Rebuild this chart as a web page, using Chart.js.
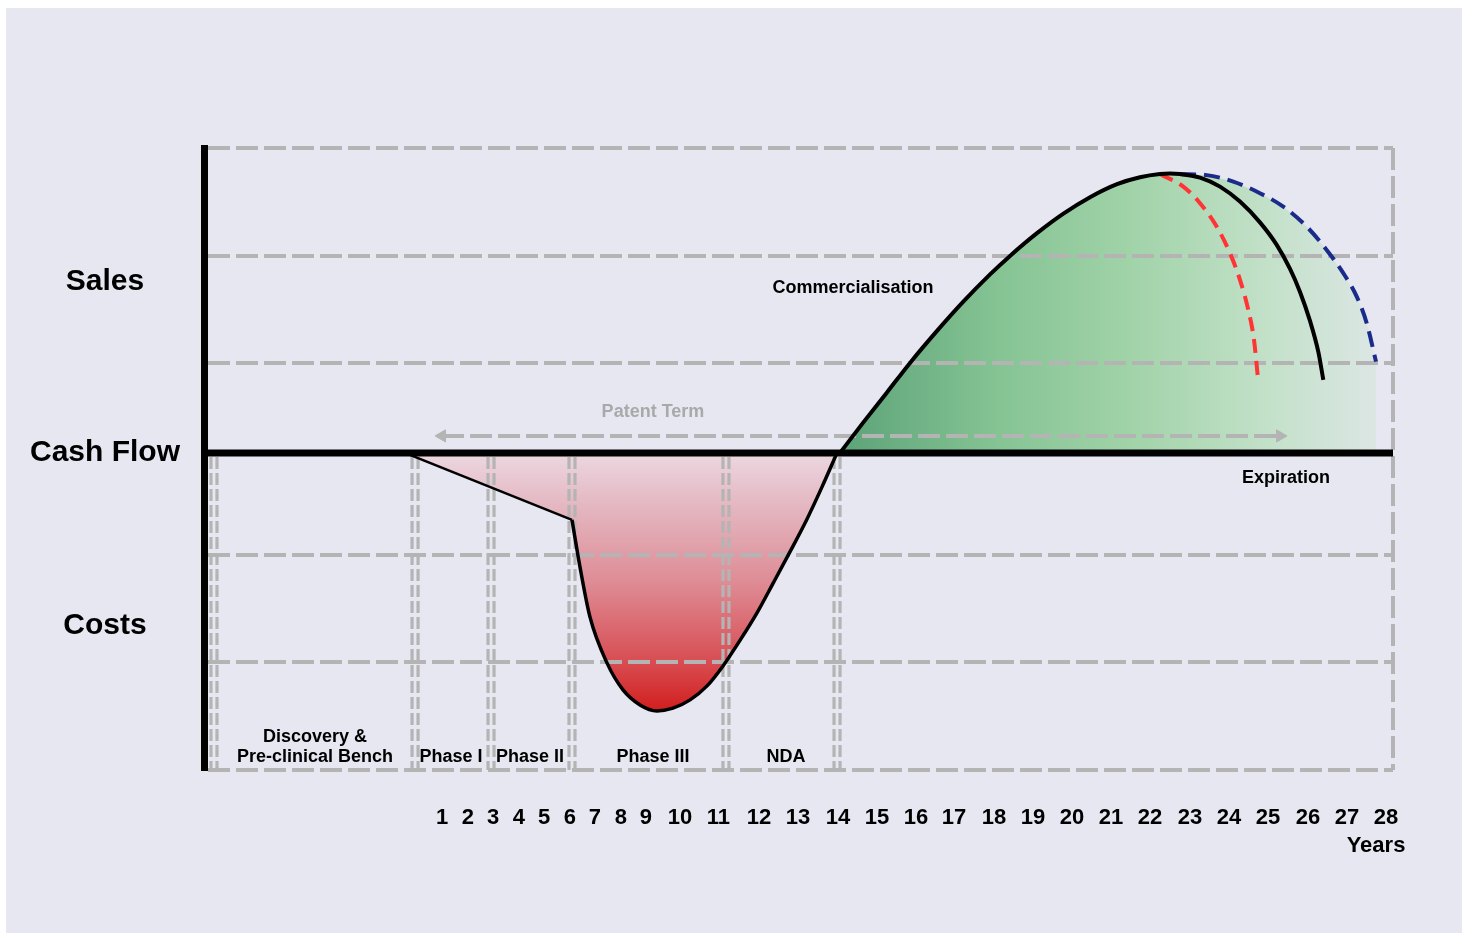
<!DOCTYPE html>
<html>
<head>
<meta charset="utf-8">
<script src="https://cdn.jsdelivr.net/npm/chart.js@4.4.1/dist/chart.umd.min.js"></script>
<style>
html,body{margin:0;padding:0;background:#ffffff;}
#wrap{width:1462px;height:933px;position:relative;}
</style>
</head>
<body>
<div id="wrap"><canvas id="c"></canvas></div>
<script>
// ---------------- data (timeline units 0..100, value units: cash flow = 0) ----------------
const yearLabels = ['1','2','3','4','5','6','7','8','9','10','11','12','13','14','15','16','17','18','19','20','21','22','23','24','25','26','27','28'];
const yearTickPos = [20.02,22.19,24.31,26.49,28.60,30.78,32.88,35.07,37.17,40.03,43.27,46.68,49.96,53.32,56.60,59.88,63.08,66.44,69.72,73.00,76.28,79.56,82.93,86.21,89.49,92.85,96.13,99.41];

const sideLabels = ['Sales','Cash Flow','Costs'];
const sideLabelPos = [56.1, 0, -56.7];

const gridLevels = [100, 64.6, 29.5, -33.4, -68.5, -104];
const phaseBounds = [0.84, 17.75, 24.14, 30.95, 43.90, 53.24];
const phaseNames = ['Discovery &\nPre-clinical Bench','Phase I','Phase II','Phase III','NDA'];
const phaseLabelX = [9.34, 20.77, 27.42, 37.76, 48.95];
const phaseLabelY = -99.7;

// early development cost ramp (Phase I - II)
const rampX = [16.90, 30.95];
const rampY = [0, -21.97];

// Phase III / NDA costs
const costX = [30.95,31.62,32.46,33.89,35.24,36.67,38.10,39.44,40.88,42.31,43.65,45.08,46.51,47.86,49.28,50.72,51.98,53.24];
const costY = [-21.97,-37.39,-53.79,-68.87,-77.73,-82.65,-84.62,-83.73,-81.01,-76.42,-69.86,-61.50,-52.48,-42.80,-32.47,-21.65,-11.15,0];

// sales (base case)
const salesX = [53.49,55.42,57.44,59.38,61.65,63.84,66.11,67.79,70.06,72.25,74.52,76.79,78.72,80.40,81.24,82.09,83.77,85.45,87.13,88.81,90.22,91.34,92.18,93.02,93.72,94.14];
const salesY = [0,9.84,19.84,29.52,40.01,49.52,58.54,64.61,72.06,78.39,83.86,88.13,90.39,91.45,91.6,91.45,90.30,87.34,82.42,75.60,68.22,60.35,52.80,43.29,33.13,23.94];

// early decline (red dashed)
const earlyX = [80.40,82.36,83.77,85.17,86.29,87.13,87.83,88.31,88.67];
const earlyY = [91.45,87.34,81.90,74.22,65.50,56.74,46.90,37.06,23.38];

// extended life (blue dashed)
const extX = [82.09,84.33,86.57,88.81,90.77,92.74,94.42,95.82,96.95,97.79,98.57];
const extY = [91.45,91.10,88.98,85.18,80.78,74.22,66.58,58.94,51.26,42.54,29.94];

// patent term
const patentStart = 20.02, patentEnd = 90.50, patentLevel = 5.57;

// free text annotations
const noteTexts = ['Commercialisation','Patent Term','Expiration','Years'];
const noteX = [54.58, 37.76, 91.0, 98.57];
const noteY = [54.1, 13.45, -8.2, -128.9];

// ---------------- helpers ----------------
const FONT = "'Liberation Sans', Arial, Helvetica, sans-serif";
const pts = (xs, ys) => xs.map((x, i) => ({x: x, y: ys[i]}));
const peakIdx = salesX.indexOf(extX[0]);
const salesEnvelope = pts(salesX.slice(0, peakIdx + 1), salesY.slice(0, peakIdx + 1)).concat(pts(extX.slice(1), extY.slice(1)));
const costEnvelope = pts(rampX, rampY).concat(pts(costX.slice(1), costY.slice(1)));
const GRID = '#b4b4b4';

function salesGradient(ctx) {
  const chart = ctx.chart;
  if (!chart.chartArea) return 'rgba(0,0,0,0)';
  const xs = chart.scales.x;
  const x0 = xs.getPixelForValue(salesX[0]);
  const x1 = xs.getPixelForValue(extX[extX.length - 1]);
  const g = chart.ctx.createLinearGradient(x0, 0, x1, 0);
  g.addColorStop(0, '#5ca378');
  g.addColorStop(0.3, '#86c494');
  g.addColorStop(0.55, '#a2d3a9');
  g.addColorStop(0.8, '#c3e1c9');
  g.addColorStop(1, '#dce6e4');
  return g;
}
function costGradient(ctx) {
  const chart = ctx.chart;
  if (!chart.chartArea) return 'rgba(0,0,0,0)';
  const ys = chart.scales.y;
  const y0 = ys.getPixelForValue(0);
  const y1 = ys.getPixelForValue(Math.min.apply(null, costY));
  const g = chart.ctx.createLinearGradient(0, y0, 0, y1);
  g.addColorStop(0, '#ecd7e0');
  g.addColorStop(0.2, '#e4b8c2');
  g.addColorStop(0.5, '#de8c95');
  g.addColorStop(0.8, '#d84f55');
  g.addColorStop(1, '#d21e1e');
  return g;
}

const backgroundPlugin = {
  id: 'bg',
  beforeDraw(chart) {
    const c = chart.ctx;
    c.save();
    c.fillStyle = '#ffffff';
    c.fillRect(0, 0, chart.width, chart.height);
    c.fillStyle = '#e7e7f2';
    c.fillRect(6, 8, chart.width - 6, chart.height - 8);
    c.restore();
  }
};

let gridDone = false;
function drawGrid(chart) {
  const c = chart.ctx, xs = chart.scales.x, ys = chart.scales.y, a = chart.chartArea;
  c.save();
  c.strokeStyle = GRID;
  c.lineWidth = 4;
  c.setLineDash([22, 6]);
  gridLevels.forEach(v => {
    const py = Math.round(ys.getPixelForValue(v));
    c.beginPath(); c.moveTo(a.left + 4, py); c.lineTo(a.right, py); c.stroke();
  });
  c.beginPath(); c.moveTo(a.right, a.top); c.lineTo(a.right, a.bottom); c.stroke();
  c.lineWidth = 3.2;
  c.setLineDash([12, 4]);
  const yTop = ys.getPixelForValue(0) + 4;
  phaseBounds.forEach(b => {
    const px = xs.getPixelForValue(b);
    [-3, 3].forEach(o => {
      c.beginPath(); c.moveTo(px + o, yTop); c.lineTo(px + o, a.bottom); c.stroke();
    });
  });
  c.restore();
}
const gridPlugin = {
  id: 'customGrid',
  beforeDatasetsDraw() { gridDone = false; },
  beforeDatasetDraw(chart, args) {
    if (gridDone) return;
    const ds = chart.data.datasets[args.index];
    if (!ds.isFill) { drawGrid(chart); gridDone = true; }
  },
  afterDatasetsDraw(chart) { if (!gridDone) { drawGrid(chart); gridDone = true; } }
};

const textPlugin = {
  id: 'texts',
  afterDraw(chart) {
    const c = chart.ctx, xs = chart.scales.x, ys = chart.scales.y;
    c.save();
    c.textAlign = 'center';
    c.textBaseline = 'middle';
    c.fillStyle = '#000';
    c.font = 'bold 18px ' + FONT;
    phaseNames.forEach((name, i) => {
      const lines = name.split('\n');
      const px = xs.getPixelForValue(phaseLabelX[i]);
      const pyLast = ys.getPixelForValue(phaseLabelY);
      lines.forEach((ln, k) => {
        c.fillText(ln, px, pyLast - (lines.length - 1 - k) * 20);
      });
    });
    noteTexts.forEach((t, i) => {
      c.fillStyle = t === 'Patent Term' ? '#a9a9a9' : '#000';
      c.font = (t === 'Years' ? 'bold 22px ' : 'bold 18px ') + FONT;
      c.fillText(t, xs.getPixelForValue(noteX[i]), ys.getPixelForValue(noteY[i]));
    });
    c.restore();
  }
};

const curve = {pointRadius: 0, pointHoverRadius: 0, fill: false, cubicInterpolationMode: 'monotone'};

new Chart(document.getElementById('c'), {
  type: 'line',
  data: {
    datasets: [
      {label: 'Cash Flow', data: [{x: 0, y: 0}, {x: 100, y: 0}], borderColor: '#000', borderWidth: 7, pointRadius: 0, fill: false, order: 0},
      Object.assign({label: 'Sales', data: pts(salesX, salesY), borderColor: '#000', borderWidth: 4, order: 1}, curve),
      Object.assign({label: 'Early decline', data: pts(earlyX, earlyY), borderColor: '#ff3434', borderWidth: 4, borderDash: [14, 8], order: 1}, curve),
      Object.assign({label: 'Extended life', data: pts(extX, extY), borderColor: '#1b2b8c', borderWidth: 4, borderDash: [16, 8], order: 1}, curve),
      Object.assign({label: 'Costs', data: pts(costX, costY), borderColor: '#000', borderWidth: 3.5, order: 1}, curve),
      {label: 'Cost ramp', data: pts(rampX, rampY), borderColor: '#000', borderWidth: 2.6, pointRadius: 0, fill: false, tension: 0, order: 1},
      {label: 'Patent Term', data: [{x: patentStart, y: patentLevel}, {x: patentEnd, y: patentLevel}],
        borderColor: GRID, borderWidth: 4, borderDash: [22, 6], fill: false,
        pointStyle: 'triangle', pointRadius: 7, pointRotation: [270, 90],
        pointBackgroundColor: GRID, pointBorderColor: GRID, pointBorderWidth: 1, order: 2},
      {label: 'Sales area', isFill: true, data: salesEnvelope, borderWidth: 0, borderColor: 'rgba(0,0,0,0)', pointRadius: 0,
        tension: 0, fill: 'origin', backgroundColor: salesGradient, order: 10},
      {label: 'Costs area', isFill: true, data: costEnvelope, borderWidth: 0, borderColor: 'rgba(0,0,0,0)', pointRadius: 0,
        tension: 0, fill: 'origin', backgroundColor: costGradient, order: 10}
    ]
  },
  options: {
    responsive: true,
    maintainAspectRatio: false,
    animation: false,
    events: [],
    layout: {padding: {top: 148, right: 69, bottom: 0, left: 0}},
    plugins: {legend: {display: false}, tooltip: {enabled: false}, title: {display: false}},
    scales: {
      x: {
        type: 'linear', min: 0, max: 100, offset: false,
        grid: {display: false, drawTicks: false},
        border: {display: false},
        afterBuildTicks: s => { s.ticks = yearTickPos.map(v => ({value: v})); },
        afterFit: s => { s.height = 163; },
        ticks: {
          autoSkip: false, maxRotation: 0, minRotation: 0, padding: 35,
          color: '#000', font: {family: FONT, size: 22, weight: 'bold'},
          callback: (v, i) => yearLabels[i]
        }
      },
      y: {
        type: 'linear', min: -104, max: 100,
        grid: {display: false, drawTicks: false},
        border: {display: true, color: '#000', width: 7},
        afterBuildTicks: s => { s.ticks = sideLabelPos.map(v => ({value: v})); },
        afterFit: s => { s.width = 204; },
        ticks: {
          autoSkip: false, crossAlign: 'center', padding: 24,
          color: '#000', font: {family: FONT, size: 30, weight: 'bold'},
          callback: (v, i) => sideLabels[i]
        }
      }
    }
  },
  plugins: [backgroundPlugin, gridPlugin, textPlugin]
});
</script>
</body>
</html>
